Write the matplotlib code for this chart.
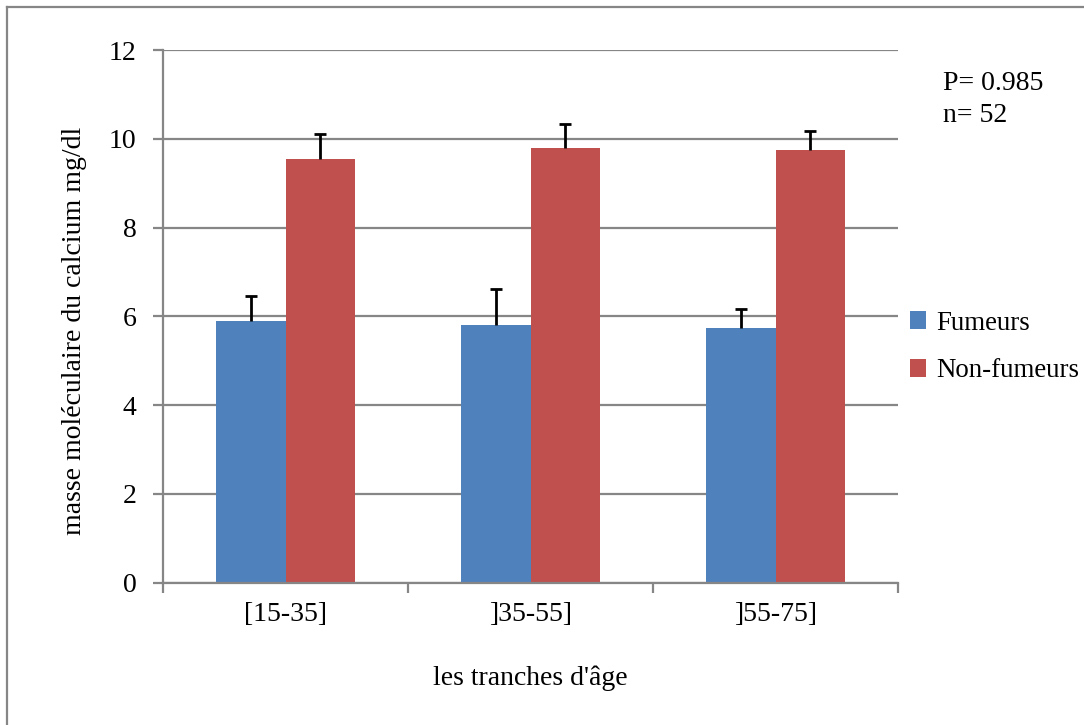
import numpy as np
import matplotlib
matplotlib.use("Agg")
import matplotlib.pyplot as plt
from matplotlib.lines import Line2D

plt.rcParams['font.family'] = ['Liberation Serif', 'DejaVu Serif']

# données
tranches = ["[15-35]", "]35-55]", "]55-75]"]
fumeurs = [5.89, 5.80, 5.73]
fumeurs_err = [0.57, 0.81, 0.44]
non_fumeurs = [9.54, 9.79, 9.74]
non_fumeurs_err = [0.56, 0.54, 0.43]

bleu = "#4F81BD"
rouge = "#C0504D"
gris = "#868686"
fs = 20

fig = plt.figure(figsize=(10.84, 7.25), dpi=100)
ax = fig.add_axes([163/1084, 1 - 582.7/725, (898 - 163)/1084, (582.7 - 50)/725])

x = np.arange(len(tranches))
w = 0.2857
ax.bar(x - w/2, fumeurs, w, color=bleu, label="Fumeurs", zorder=2)
ax.bar(x + w/2, non_fumeurs, w, color=rouge, label="Non-fumeurs", zorder=2)

# barres d'erreur (seulement vers le haut)
for xs, ys, es in [(x - w/2, fumeurs, fumeurs_err), (x + w/2, non_fumeurs, non_fumeurs_err)]:
    eb = ax.errorbar(xs, ys, yerr=[np.zeros(len(es)), es], fmt='none', ecolor='black',
                     elinewidth=2, capsize=4.5, capthick=2, zorder=3)
    eb[1][0].set_visible(False)

ax.set_xlim(-0.5, 2.5)
ax.set_ylim(0, 12)
ax.set_yticks(np.arange(0, 13, 2))
ax.yaxis.grid(True, color=gris, linewidth=1.6, zorder=0)
ax.set_axisbelow(True)

# ticks x aux limites des catégories, étiquettes au centre
ax.set_xticks([-0.5, 0.5, 1.5, 2.5])
ax.set_xticklabels([])
ax.set_xticks(x, minor=True)
ax.set_xticklabels(tranches, minor=True, fontsize=fs)
ax.tick_params(axis='x', which='minor', length=0, pad=14)
ax.tick_params(axis='x', which='major', length=7, width=1.6, color=gris, direction='out')
ax.tick_params(axis='y', length=7, width=1.6, color=gris, direction='out', labelsize=fs, pad=12)

for s in ['top', 'right']:
    ax.spines[s].set_visible(False)
for s in ['left', 'bottom']:
    ax.spines[s].set_color(gris)
    ax.spines[s].set_linewidth(1.6)

ax.set_ylabel("masse moléculaire du calcium mg/dl", fontsize=fs)
ax.yaxis.set_label_coords(-0.104, 0.4725)
fig.text(530/1084, 1 - 678/725, "les tranches d'âge", fontsize=fs, ha='center', va='center')

fig.text(943/1084, 1 - 84/725, "P= 0.985", fontsize=fs, ha='left', va='center')
fig.text(943/1084, 1 - 116/725, "n= 52", fontsize=fs, ha='left', va='center')

ax.legend(loc='center left', bbox_to_anchor=(899/1084, 1 - 347/725), bbox_transform=fig.transFigure,
          frameon=False, fontsize=19.4, handlelength=0.6, handleheight=0.6, handletextpad=0.4,
          labelspacing=0.85, borderaxespad=0)

# cadre du graphique
fig.add_artist(Line2D([7/1084, 1], [1 - 7/725, 1 - 7/725], color=gris, linewidth=1.6))
fig.add_artist(Line2D([7/1084, 7/1084], [0, 1 - 7/725], color=gris, linewidth=1.6))

fig.savefig("out.png", dpi=100)
